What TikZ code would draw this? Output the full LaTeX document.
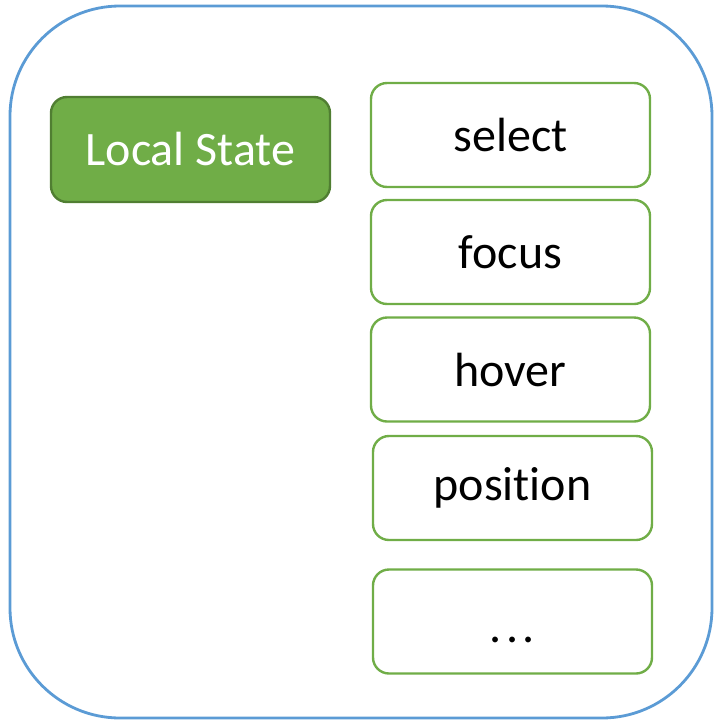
\documentclass[tikz,border=0pt]{standalone}
\usepackage{fontspec}
\setmainfont{Carlito}[Ligatures = NoCommon]
\usetikzlibrary{positioning}

\definecolor{frameblue}{HTML}{5B9BD5}
\definecolor{stategreen}{HTML}{70AD47}
\definecolor{stateedge}{HTML}{507E32}

\begin{document}
\begin{tikzpicture}[%
        x = 1pt,
        y = -1pt,
        line width = 2.4pt,
        item/.style = {
            draw = stategreen,
            fill = white,
            rounded corners = 16pt,
            minimum width = 279pt,
            minimum height = 104pt,
            font = \fontsize{48}{54}\selectfont
        },
        statebox/.style = {
            draw = stateedge,
            fill = stategreen,
            text = white,
            rounded corners = 16pt,
            minimum width = 279pt,
            minimum height = 105pt,
            font = \fontsize{48}{54}\selectfont
        }
    ]

        \useasboundingbox (0, 0) rectangle (715, 721);

        % Outer frame holding the local state.
        \draw[frameblue, line width = 2.8pt, rounded corners = 110pt]
            (10, 6) rectangle (712, 718);

        % Label of the state on the left.
        \node[statebox] (local) at (190.5, 149.5) {Local State};

        % Entries of the local state on the right.
        \node[item] (select)   at (510.5, 135)   {\raisebox{-2pt}{select}};
        \node[item] (focus)    at (510.5, 252)   {\raisebox{-2pt}{focus}};
        \node[item] (hover)    at (510.5, 369.5) {\raisebox{-2pt}{hover}};
        \node[item] (position) at (512.5, 488)   {\raisebox{-2pt}{position}};
        \node[item] (more)     at (512.5, 621.5)
            {\raisebox{-21pt}[0pt][0pt]{.\kern4.5pt.\kern4.5pt.}};
    \end{tikzpicture}
\end{document}
